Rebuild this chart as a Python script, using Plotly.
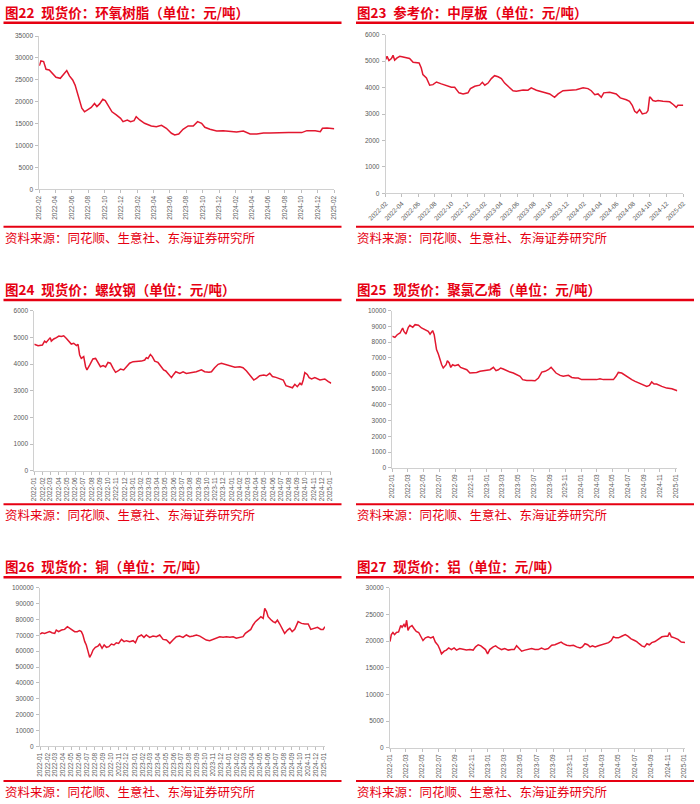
import plotly.graph_objects as go

# ---------------- data ----------------
epoxy_dates = [
    "2022-02-01", "2022-02-07", "2022-02-17", "2022-02-26", "2022-03-10", "2022-03-19", "2022-04-04", "2022-04-20", "2022-05-03", "2022-05-14",
    "2022-05-24", "2022-06-05", "2022-06-14", "2022-06-24", "2022-06-30", "2022-07-09", "2022-07-19", "2022-07-31", "2022-08-13", "2022-08-25",
    "2022-09-03", "2022-09-13", "2022-09-25", "2022-10-04", "2022-10-16", "2022-10-29", "2022-11-14", "2022-11-30", "2022-12-09", "2022-12-25",
    "2023-01-06", "2023-01-19", "2023-01-27", "2023-02-09", "2023-02-27", "2023-03-24", "2023-04-12", "2023-05-01", "2023-05-19", "2023-06-07",
    "2023-06-19", "2023-07-04", "2023-07-20", "2023-08-08", "2023-08-27", "2023-09-12", "2023-09-27", "2023-10-09", "2023-10-28", "2023-11-22",
    "2023-12-16", "2024-01-10", "2024-02-04", "2024-02-29", "2024-03-25", "2024-04-19", "2024-05-14", "2024-06-07", "2024-07-02", "2024-08-15",
    "2024-10-03", "2024-10-22", "2024-11-22", "2024-12-11", "2024-12-19", "2025-01-05", "2025-02-01",
]
epoxy_values = [
    28200, 29300, 29150, 27400, 27250, 26600, 25570, 25340, 26330, 27100,
    25900, 24960, 23800, 21900, 20400, 18500, 17700, 18100, 18700, 19600,
    18900, 19500, 20550, 20240, 18900, 17700, 17000, 16200, 15450, 15830,
    15450, 15680, 16590, 15830, 15070, 14460, 14300, 14600, 13930, 12790,
    12400, 12630, 13700, 14460, 14460, 15450, 15070, 14150, 13700, 13320,
    13390, 13170, 13090, 13320, 12630, 12630, 12860, 12860, 12940, 12940,
    12940, 13390, 13390, 13170, 13930, 14000, 13850,
]

plate_dates = [
    "2022-02-01", "2022-02-06", "2022-02-13", "2022-02-22", "2022-02-28", "2022-03-06", "2022-03-15", "2022-03-25", "2022-04-06", "2022-04-18",
    "2022-04-30", "2022-05-13", "2022-05-25", "2022-06-04", "2022-06-12", "2022-06-18", "2022-07-01", "2022-07-13", "2022-07-25", "2022-08-07",
    "2022-08-25", "2022-09-12", "2022-10-01", "2022-10-13", "2022-10-29", "2022-11-13", "2022-12-01", "2022-12-10", "2022-12-26", "2023-01-13",
    "2023-01-23", "2023-02-01", "2023-02-13", "2023-02-25", "2023-03-09", "2023-03-22", "2023-04-03", "2023-04-15", "2023-05-01", "2023-05-16",
    "2023-05-28", "2023-06-22", "2023-07-10", "2023-07-22", "2023-08-10", "2023-09-03", "2023-09-28", "2023-10-16", "2023-10-29", "2023-11-16",
    "2023-12-10", "2024-01-04", "2024-01-29", "2024-02-16", "2024-02-28", "2024-03-12", "2024-03-24", "2024-04-05", "2024-04-14", "2024-05-06",
    "2024-05-30", "2024-06-14", "2024-07-06", "2024-07-18", "2024-07-28", "2024-08-06", "2024-08-14", "2024-08-24", "2024-09-03", "2024-09-18",
    "2024-09-24", "2024-09-30", "2024-10-04", "2024-10-12", "2024-10-22", "2024-10-31", "2024-11-18", "2024-12-13", "2024-12-27", "2025-01-06",
    "2025-01-12", "2025-01-25", "2025-02-01",
]
plate_values = [
    5060, 5180, 5020, 5100, 5220, 5040, 5120, 5180, 5160, 5120,
    5100, 4960, 4930, 4930, 4740, 4490, 4360, 4090, 4110, 4210,
    4140, 4070, 4010, 4010, 3800, 3760, 3800, 3960, 4050, 4090,
    4200, 4090, 4170, 4340, 4450, 4410, 4340, 4170, 4010, 3880,
    3860, 3910, 3900, 3990, 3900, 3830, 3760, 3630, 3760, 3880,
    3900, 3920, 3990, 3960, 3880, 3730, 3760, 3630, 3800, 3820,
    3760, 3610, 3540, 3480, 3330, 3100, 3040, 3170, 3000, 3040,
    3130, 3650, 3610, 3510, 3480, 3510, 3480, 3460, 3350, 3250,
    3330, 3320, 3330,
]

rebar_dates = [
    "2022-01-01", "2022-01-15", "2022-01-31", "2022-02-08", "2022-02-14", "2022-02-21", "2022-03-01", "2022-03-05", "2022-03-14", "2022-03-24",
    "2022-04-02", "2022-04-11", "2022-04-20", "2022-04-30", "2022-05-10", "2022-05-18", "2022-05-27", "2022-06-06", "2022-06-12", "2022-06-18",
    "2022-06-24", "2022-07-03", "2022-07-10", "2022-07-15", "2022-07-25", "2022-08-06", "2022-08-16", "2022-08-25", "2022-09-03", "2022-09-13",
    "2022-09-22", "2022-10-01", "2022-10-10", "2022-10-20", "2022-10-29", "2022-11-07", "2022-11-16", "2022-11-28", "2022-12-10", "2022-12-20",
    "2023-01-02", "2023-01-20", "2023-02-02", "2023-02-14", "2023-02-20", "2023-02-26", "2023-03-07", "2023-03-14", "2023-03-23", "2023-04-04",
    "2023-04-17", "2023-04-25", "2023-05-03", "2023-05-11", "2023-05-20", "2023-05-24", "2023-06-01", "2023-06-09", "2023-06-24", "2023-07-06",
    "2023-07-18", "2023-08-06", "2023-08-24", "2023-09-12", "2023-09-24", "2023-10-10", "2023-10-19", "2023-10-31", "2023-11-13", "2023-11-25",
    "2023-12-08", "2023-12-26", "2024-01-14", "2024-02-01", "2024-02-13", "2024-02-26", "2024-03-07", "2024-03-15", "2024-03-24", "2024-04-03",
    "2024-04-15", "2024-04-30", "2024-05-10", "2024-05-22", "2024-06-01", "2024-06-14", "2024-06-28", "2024-07-11", "2024-07-21", "2024-08-02",
    "2024-08-14", "2024-08-23", "2024-09-01", "2024-09-11", "2024-09-17", "2024-09-23", "2024-09-29", "2024-10-08", "2024-10-15", "2024-10-24",
    "2024-11-05", "2024-11-24", "2024-12-12", "2024-12-25", "2025-01-05",
]
rebar_values = [
    4740, 4690, 4710, 4860, 4810, 4900, 4990, 4860, 4940, 4990,
    5050, 5030, 5060, 4960, 4860, 4750, 4780, 4690, 4740, 4340,
    4210, 4280, 3900, 3780, 3960, 4190, 4210, 4030, 3900, 3940,
    3890, 4060, 4030, 3840, 3690, 3740, 3810, 3780, 3900, 4030,
    4090, 4090, 4110, 4150, 4240, 4210, 4360, 4280, 4110, 4060,
    3900, 3780, 3740, 3650, 3560, 3490, 3610, 3710, 3650, 3710,
    3650, 3690, 3710, 3780, 3710, 3690, 3710, 3860, 3990, 4030,
    3990, 3940, 3880, 3900, 3860, 3740, 3610, 3490, 3400, 3460,
    3560, 3590, 3560, 3650, 3530, 3500, 3460, 3400, 3190, 3150,
    3110, 3240, 3150, 3280, 3210, 3400, 3680, 3610, 3490, 3440,
    3490, 3400, 3440, 3340, 3280,
]

pvc_dates = [
    "2022-01-01", "2022-01-11", "2022-01-20", "2022-01-31", "2022-02-10", "2022-02-15", "2022-02-23", "2022-03-04", "2022-03-10", "2022-03-21",
    "2022-03-30", "2022-04-12", "2022-04-24", "2022-05-07", "2022-05-20", "2022-05-27", "2022-06-06", "2022-06-12", "2022-06-21", "2022-06-28",
    "2022-07-04", "2022-07-11", "2022-07-17", "2022-07-28", "2022-08-02", "2022-08-09", "2022-08-15", "2022-08-22", "2022-08-31", "2022-09-13",
    "2022-09-22", "2022-10-03", "2022-10-16", "2022-10-28", "2022-11-10", "2022-11-23", "2022-12-06", "2022-12-25", "2023-01-14", "2023-01-27",
    "2023-02-06", "2023-02-15", "2023-02-24", "2023-03-06", "2023-03-19", "2023-04-01", "2023-04-14", "2023-04-27", "2023-05-10", "2023-05-20",
    "2023-06-05", "2023-06-24", "2023-07-07", "2023-07-20", "2023-08-02", "2023-08-15", "2023-08-27", "2023-09-07", "2023-09-16", "2023-09-26",
    "2023-10-12", "2023-10-24", "2023-11-13", "2023-11-26", "2023-12-09", "2023-12-21", "2024-01-03", "2024-01-23", "2024-02-11", "2024-03-01",
    "2024-03-14", "2024-03-27", "2024-04-16", "2024-05-05", "2024-05-15", "2024-05-24", "2024-06-06", "2024-06-19", "2024-07-02", "2024-07-15",
    "2024-07-28", "2024-08-13", "2024-08-29", "2024-09-11", "2024-09-21", "2024-09-30", "2024-10-09", "2024-10-19", "2024-11-08", "2024-11-27",
    "2024-12-17", "2024-12-29", "2025-01-07",
]
pvc_values = [
    8370, 8300, 8470, 8580, 8900, 8680, 8510, 8940, 9070, 8940,
    9110, 9070, 8900, 8790, 8680, 8510, 8730, 8470, 7520, 7240,
    6880, 6560, 6350, 6560, 6820, 6670, 6390, 6560, 6500, 6560,
    6390, 6310, 6240, 6030, 6030, 6070, 6140, 6180, 6240, 6390,
    6180, 6240, 6350, 6290, 6180, 6090, 6030, 5920, 5820, 5610,
    5560, 5560, 5540, 5710, 6090, 6140, 6240, 6390, 6240, 6030,
    5880, 5820, 5880, 5750, 5710, 5710, 5610, 5610, 5650, 5610,
    5670, 5610, 5610, 5610, 5820, 6070, 6030, 5880, 5710, 5610,
    5500, 5390, 5290, 5180, 5240, 5460, 5330, 5330, 5180, 5070,
    5030, 4970, 4900,
]

copper_dates = [
    "2022-01-01", "2022-01-09", "2022-01-19", "2022-01-29", "2022-02-07", "2022-02-16", "2022-02-27", "2022-03-05", "2022-03-14", "2022-03-25",
    "2022-04-06", "2022-04-17", "2022-04-26", "2022-05-05", "2022-05-15", "2022-05-25", "2022-06-03", "2022-06-10", "2022-06-16", "2022-06-23",
    "2022-06-29", "2022-07-06", "2022-07-12", "2022-07-19", "2022-07-25", "2022-08-03", "2022-08-13", "2022-08-20", "2022-08-29", "2022-09-06",
    "2022-09-15", "2022-09-24", "2022-10-04", "2022-10-14", "2022-10-23", "2022-11-01", "2022-11-12", "2022-11-22", "2022-12-01", "2022-12-14",
    "2022-12-27", "2023-01-05", "2023-01-15", "2023-01-28", "2023-02-07", "2023-02-16", "2023-03-01", "2023-03-14", "2023-03-27", "2023-04-09",
    "2023-04-22", "2023-05-05", "2023-05-18", "2023-05-30", "2023-06-12", "2023-06-25", "2023-07-08", "2023-07-21", "2023-08-03", "2023-08-16",
    "2023-08-29", "2023-09-11", "2023-09-24", "2023-10-06", "2023-10-19", "2023-11-01", "2023-11-14", "2023-11-27", "2023-12-10", "2023-12-23",
    "2024-01-05", "2024-01-18", "2024-01-30", "2024-02-12", "2024-02-25", "2024-03-05", "2024-03-16", "2024-03-26", "2024-04-04", "2024-04-13",
    "2024-04-23", "2024-05-04", "2024-05-13", "2024-05-19", "2024-05-26", "2024-06-01", "2024-06-11", "2024-06-20", "2024-06-29", "2024-07-07",
    "2024-07-16", "2024-07-25", "2024-08-04", "2024-08-15", "2024-08-24", "2024-09-02", "2024-09-12", "2024-09-25", "2024-10-08", "2024-10-21",
    "2024-11-03", "2024-11-13", "2024-11-26", "2024-12-09", "2024-12-22", "2024-12-31", "2025-01-07",
]
copper_values = [
    70800, 71600, 71200, 71800, 72300, 71600, 71200, 73300, 72300, 73300,
    73700, 75400, 74400, 73700, 72300, 72300, 72900, 72300, 70200, 66000,
    63900, 59700, 56100, 58200, 60700, 62400, 63200, 64500, 61800, 63900,
    62400, 62800, 64500, 63900, 65300, 64900, 67400, 66000, 66600, 66000,
    66600, 65300, 69100, 70200, 68700, 70200, 68700, 69500, 69100, 70200,
    67400, 67000, 64900, 67000, 69100, 69500, 68700, 70200, 69100, 69500,
    70200, 69500, 68100, 67000, 66600, 67400, 68100, 69100, 68700, 69100,
    68700, 69100, 68100, 68700, 69100, 71200, 72300, 73700, 76500, 78600,
    80000, 81700, 80600, 86900, 84900, 81700, 80000, 78600, 77900, 79600,
    77100, 74400, 71200, 73300, 74400, 72300, 73700, 78600, 77500, 77100,
    77100, 73700, 74400, 75000, 73700, 73700, 75400,
]

aluminum_dates = [
    "2022-01-01", "2022-01-06", "2022-01-12", "2022-01-18", "2022-01-25", "2022-02-02", "2022-02-10", "2022-02-15", "2022-02-22", "2022-02-27",
    "2022-03-04", "2022-03-09", "2022-03-15", "2022-03-24", "2022-04-01", "2022-04-09", "2022-04-18", "2022-04-26", "2022-05-04", "2022-05-13",
    "2022-05-23", "2022-06-02", "2022-06-11", "2022-06-19", "2022-06-29", "2022-07-06", "2022-07-12", "2022-07-22", "2022-07-30", "2022-08-08",
    "2022-08-18", "2022-08-28", "2022-09-06", "2022-09-18", "2022-10-01", "2022-10-13", "2022-10-26", "2022-11-07", "2022-11-16", "2022-11-26",
    "2022-12-06", "2022-12-14", "2022-12-23", "2022-12-31", "2023-01-08", "2023-01-21", "2023-01-30", "2023-02-09", "2023-02-21", "2023-03-05",
    "2023-03-18", "2023-03-30", "2023-04-09", "2023-04-18", "2023-04-27", "2023-05-07", "2023-05-19", "2023-06-01", "2023-06-13", "2023-06-26",
    "2023-07-08", "2023-07-20", "2023-08-02", "2023-08-14", "2023-08-27", "2023-09-08", "2023-09-21", "2023-10-01", "2023-10-09", "2023-10-22",
    "2023-11-03", "2023-11-16", "2023-11-28", "2023-12-11", "2023-12-19", "2023-12-29", "2024-01-08", "2024-01-17", "2024-01-26", "2024-02-05",
    "2024-02-17", "2024-03-01", "2024-03-13", "2024-03-26", "2024-04-05", "2024-04-13", "2024-04-22", "2024-05-02", "2024-05-14", "2024-05-27",
    "2024-06-06", "2024-06-18", "2024-07-01", "2024-07-09", "2024-07-18", "2024-07-28", "2024-08-07", "2024-08-16", "2024-08-25", "2024-09-03",
    "2024-09-15", "2024-09-28", "2024-10-11", "2024-10-23", "2024-11-02", "2024-11-08", "2024-11-15", "2024-11-27", "2024-12-10", "2024-12-22",
    "2024-12-31", "2025-01-07",
]
aluminum_values = [
    19900, 21200, 21600, 21200, 21600, 21700, 22900, 22600, 23100, 22600,
    23900, 22000, 22600, 22900, 22300, 21800, 21600, 20900, 20100, 20600,
    20800, 20600, 20800, 19800, 19200, 18400, 17600, 18100, 18300, 18700,
    18400, 18700, 18300, 18600, 18400, 18300, 18400, 18300, 18900, 19300,
    19100, 18700, 18400, 17600, 18400, 18900, 19100, 18700, 18400, 18600,
    18300, 18400, 18400, 19100, 18600, 18100, 18300, 18400, 18600, 18400,
    18400, 18700, 18400, 18600, 19200, 19300, 19500, 19800, 19500, 19200,
    19100, 19200, 18900, 18700, 18900, 19500, 19300, 18900, 19100, 18900,
    19100, 19300, 19500, 19700, 20100, 20800, 20600, 20600, 20900, 21200,
    20900, 20400, 20100, 19900, 19500, 19100, 18900, 19500, 19300, 19700,
    19900, 20400, 20800, 20900, 20900, 21600, 20800, 20600, 20300, 19800,
    19700, 19700,
]

# tick labels
ticks_even_months = ["2022-02", "2022-04", "2022-06", "2022-08", "2022-10", "2022-12",
                     "2023-02", "2023-04", "2023-06", "2023-08", "2023-10", "2023-12",
                     "2024-02", "2024-04", "2024-06", "2024-08", "2024-10", "2024-12", "2025-02"]
ticks_odd_months = ["2022-01", "2022-03", "2022-05", "2022-07", "2022-09", "2022-11",
                    "2023-01", "2023-03", "2023-05", "2023-07", "2023-09", "2023-11",
                    "2024-01", "2024-03", "2024-05", "2024-07", "2024-09", "2024-11", "2025-01"]
ticks_monthly = ["2022-01", "2022-02", "2022-03", "2022-04", "2022-05", "2022-06",
                 "2022-07", "2022-08", "2022-09", "2022-10", "2022-11", "2022-12",
                 "2023-01", "2023-02", "2023-03", "2023-04", "2023-05", "2023-06",
                 "2023-07", "2023-08", "2023-09", "2023-10", "2023-11", "2023-12",
                 "2024-01", "2024-02", "2024-03", "2024-04", "2024-05", "2024-06",
                 "2024-07", "2024-08", "2024-09", "2024-10", "2024-11", "2024-12", "2025-01"]

titles = ["图22\u2002现货价：环氧树脂（单位：元/吨）",
          "图23\u2002参考价：中厚板（单位：元/吨）",
          "图24\u2002现货价：螺纹钢（单位：元/吨）",
          "图25\u2002现货价：聚氯乙烯（单位：元/吨）",
          "图26\u2002现货价：铜（单位：元/吨）",
          "图27\u2002现货价：铝（单位：元/吨）"]
source_text = "资料来源：同花顺、生意社、东海证券研究所"

series = [(epoxy_dates, epoxy_values), (plate_dates, plate_values), (rebar_dates, rebar_values),
          (pvc_dates, pvc_values), (copper_dates, copper_values), (aluminum_dates, aluminum_values)]
for d, v in series:
    assert len(d) == len(v), (len(d), len(v))

# ---------------- layout ----------------
W, H = 700, 804
RED = "#E60012"
LINE = "#E2172F"
CJK = "Noto Sans CJK SC"
NUM = "Liberation Sans"


def fx(x):
    return x / W


def fy(y):
    return 1 - y / H


panels = [
    dict(xd=(39.3, 334.3), yd=(36.0, 189.3), yr=(0, 35000), dt=5000, xr=("2022-02-01", "2025-02-01"),
         ticks=ticks_even_months, angle=-90),
    dict(xd=(385.7, 683.3), yd=(34.7, 193.3), yr=(0, 6000), dt=1000, xr=("2022-02-01", "2025-02-01"),
         ticks=ticks_even_months, angle=-45),
    dict(xd=(34.3, 331.3), yd=(310.7, 470.7), yr=(0, 6000), dt=1000, xr=("2022-01-01", "2025-01-05"),
         ticks=ticks_monthly, angle=-90),
    dict(xd=(392.3, 677.3), yd=(310.7, 467.7), yr=(0, 10000), dt=1000, xr=("2022-01-01", "2025-01-07"),
         ticks=ticks_odd_months, angle=-90),
    dict(xd=(40.0, 325.0), yd=(587.7, 746.3), yr=(0, 100000), dt=10000, xr=("2022-01-01", "2025-01-07"),
         ticks=ticks_monthly, angle=-90),
    dict(xd=(390.0, 685.0), yd=(587.7, 747.7), yr=(0, 30000), dt=5000, xr=("2022-01-01", "2025-01-05"),
         ticks=ticks_odd_months, angle=-90),
]

fig = go.Figure()
layout_axes = {}
for i, (p, (d, v)) in enumerate(zip(panels, series), start=1):
    sfx = "" if i == 1 else str(i)
    fig.add_trace(go.Scatter(x=d, y=v, mode="lines", line=dict(color=LINE, width=1.5),
                             xaxis="x" + sfx, yaxis="y" + sfx, hoverinfo="skip", showlegend=False))
    layout_axes["xaxis" + sfx] = dict(
        domain=[fx(p["xd"][0]), fx(p["xd"][1])], anchor="y" + sfx, type="date",
        range=list(p["xr"]), tickmode="array", automargin=False,
        tickvals=[t + "-01" for t in p["ticks"]], ticktext=p["ticks"], tickangle=p["angle"],
        ticks="outside", ticklen=3, tickcolor="#BFBFBF", tickwidth=0.8,
        showline=True, linecolor="#D0D0D0", linewidth=1, showgrid=False, zeroline=False,
        tickfont=dict(family=NUM, size=6.5, color="#595959"), fixedrange=True,
    )
    layout_axes["yaxis" + sfx] = dict(
        domain=[fy(p["yd"][1]), fy(p["yd"][0])], anchor="x" + sfx, automargin=False,
        range=list(p["yr"]), tick0=0, dtick=p["dt"], tickformat="d",
        ticks="outside", ticklen=3, tickcolor="#BFBFBF", tickwidth=0.8, ticklabelstandoff=1,
        showline=True, linecolor="#D0D0D0", linewidth=1, showgrid=False, zeroline=False,
        tickfont=dict(family=NUM, size=6.5, color="#595959"), fixedrange=True,
    )

# frame positions (pixels): left/right column x-start and x-end, rows
cols = [(3.5, 341.5, 4.0), (356.0, 694.0, 356.5)]
rows = [  # title center, title rule, source rule, source center
    (11.5, 22.7, 226.7, 237.7),
    (288.7, 300.0, 504.3, 514.3),
    (565.7, 577.3, 781.0, 791.7),
]
shapes = []
annotations = []
for r, (ty, tl, sl, sy) in enumerate(rows):
    for c, (x0, x1, tx) in enumerate(cols):
        k = r * 2 + c
        shapes.append(dict(type="line", xref="paper", yref="paper", x0=fx(x0), x1=fx(x1),
                           y0=fy(tl), y1=fy(tl), line=dict(color=RED, width=2.6)))
        shapes.append(dict(type="line", xref="paper", yref="paper", x0=fx(x0), x1=fx(x1),
                           y0=fy(sl), y1=fy(sl), line=dict(color=RED, width=2.0)))
        annotations.append(dict(text=titles[k], xref="paper", yref="paper", x=fx(tx), y=fy(ty),
                                xanchor="left", yanchor="middle", showarrow=False, borderpad=0,
                                font=dict(family=CJK, size=13.5, color=RED, weight="bold")))
        annotations.append(dict(text=source_text, xref="paper", yref="paper", x=fx(tx), y=fy(sy),
                                xanchor="left", yanchor="middle", showarrow=False, borderpad=0,
                                font=dict(family=CJK, size=12.5, color=RED)))

fig.update_layout(
    width=W, height=H, autosize=False,
    margin=dict(l=0, r=0, t=0, b=0, pad=0, autoexpand=False),
    paper_bgcolor="white", plot_bgcolor="white",
    shapes=shapes, annotations=annotations, showlegend=False,
    **layout_axes,
)

fig.write_html("out.html", config={"displayModeBar": False},
               post_script="document.body.style.margin='0';")
